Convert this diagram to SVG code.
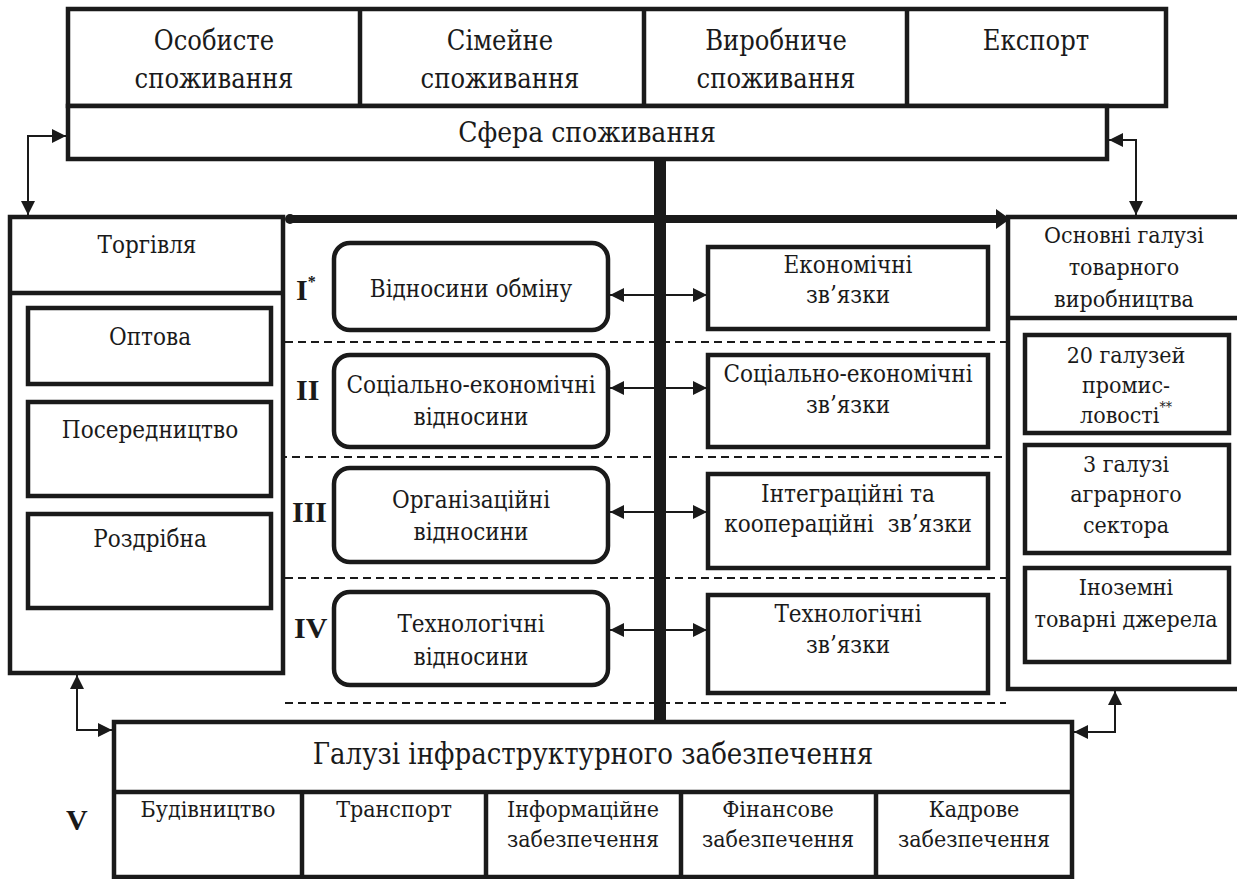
<svg xmlns="http://www.w3.org/2000/svg" width="1237" height="879" viewBox="0 0 1237 879">
<defs>
<style>
.box{fill:#fff;stroke:#1a1a1a;stroke-width:4.5}
.ln{fill:none;stroke:#1a1a1a;stroke-width:4.5}
.t{font-family:"DejaVu Serif Condensed","Liberation Serif","DejaVu Serif",serif;font-size:24px;fill:#1a1a1a;text-anchor:middle}
.big{font-size:27px}
.sf{font-size:28px}
.ttl{font-size:29px}
.sm{font-size:23px}
.num{font-family:"Liberation Serif","Times New Roman",serif;font-size:30px;font-weight:bold;fill:#1a1a1a}
.thin{fill:none;stroke:#1a1a1a;stroke-width:2}
.dash{fill:none;stroke:#1a1a1a;stroke-width:2;stroke-dasharray:8 5}
</style>
<marker id="ah" viewBox="0 0 10 10" refX="10" refY="5" markerWidth="15" markerHeight="14" markerUnits="userSpaceOnUse" orient="auto-start-reverse">
<path d="M0,0 L10,5 L0,10 z" fill="#1a1a1a"/>
</marker>
</defs>
<rect width="1237" height="879" fill="#fff"/>

<g id="dashes">
<line class="dash" x1="285" y1="342" x2="1007" y2="342"/>
<line class="dash" x1="279" y1="457" x2="1002" y2="457"/>
<line class="dash" x1="285" y1="578" x2="1006" y2="578"/>
<line class="dash" x1="285" y1="703" x2="1006" y2="703"/>
</g>

<g id="top-row">
<rect class="box" x="68" y="9" width="1098" height="97"/>
<line class="ln" x1="360" y1="9" x2="360" y2="106"/>
<line class="ln" x1="644" y1="9" x2="644" y2="106"/>
<line class="ln" x1="907" y1="9" x2="907" y2="106"/>
<text class="t big" x="214" y="50">Особисте</text>
<text class="t big" x="214" y="88">споживання</text>
<text class="t big" x="500" y="50">Сімейне</text>
<text class="t big" x="500" y="88">споживання</text>
<text class="t big" x="776" y="50">Виробниче</text>
<text class="t big" x="776" y="88">споживання</text>
<text class="t big" x="1036" y="50">Експорт</text>
</g>

<g id="sfera">
<rect class="box" x="68" y="106" width="1039" height="53"/>
<text class="t sf" x="587" y="142">Сфера споживання</text>
</g>

<g id="torgivlya">
<rect class="box" x="10" y="217" width="273" height="456"/>
<line class="ln" x1="10" y1="293" x2="283" y2="293"/>
<text class="t" x="147" y="253">Торгівля</text>
</g>
<g id="optova">
<rect class="box" x="28" y="308" width="243" height="76"/>
<text class="t" x="150" y="345">Оптова</text>
</g>
<g id="poserednytstvo">
<rect class="box" x="28" y="402" width="243" height="94"/>
<text class="t" x="150" y="438">Посередництво</text>
</g>
<g id="rozdribna">
<rect class="box" x="28" y="514" width="243" height="94"/>
<text class="t" x="150" y="547">Роздрібна</text>
</g>

<g id="osnovni">
<rect class="box" x="1008" y="217" width="240" height="472"/>
<line class="ln" x1="1008" y1="318" x2="1240" y2="318"/>
<text class="t sm" x="1124" y="243">Основні галузі</text>
<text class="t sm" x="1124" y="275">товарного</text>
<text class="t sm" x="1124" y="307">виробництва</text>
</g>
<g id="promyslovist">
<rect class="box" x="1025" y="335" width="204" height="98"/>
<text class="t sm" x="1126" y="363">20 галузей</text>
<text class="t sm" x="1126" y="393">промис-</text>
<text class="t sm" x="1126" y="423">ловості<tspan font-size="14" dy="-11">**</tspan></text>
</g>
<g id="agrarnyi">
<rect class="box" x="1025" y="445" width="204" height="108"/>
<text class="t sm" x="1126" y="472">3 галузі</text>
<text class="t sm" x="1126" y="502">аграрного</text>
<text class="t sm" x="1126" y="533">сектора</text>
</g>
<g id="inozemni">
<rect class="box" x="1025" y="568" width="204" height="94"/>
<text class="t sm" x="1126" y="595">Іноземні</text>
<text class="t sm" x="1126" y="627">товарні джерела</text>
</g>

<g id="levels">
<text class="num" x="296" y="300">I<tspan font-size="16" dy="-13">*</tspan></text>
<text class="num" x="296" y="400">II</text>
<text class="num" x="292" y="522">III</text>
<text class="num" x="294" y="638">IV</text>
<text class="num" x="66" y="830">V</text>
</g>

<g id="vidnosyny-obminu">
<rect class="box" x="334" y="243" width="274" height="87" rx="16"/>
<text class="t" x="471" y="297">Відносини обміну</text>
</g>
<g id="sots-ek-vidnosyny">
<rect class="box" x="334" y="355" width="274" height="92" rx="16"/>
<text class="t" x="471" y="393">Соціально-економічні</text>
<text class="t" x="471" y="425">відносини</text>
</g>
<g id="org-vidnosyny">
<rect class="box" x="334" y="468" width="274" height="94" rx="16"/>
<text class="t" x="471" y="508">Організаційні</text>
<text class="t" x="471" y="540">відносини</text>
</g>
<g id="tekh-vidnosyny">
<rect class="box" x="334" y="592" width="274" height="93" rx="16"/>
<text class="t" x="471" y="632">Технологічні</text>
<text class="t" x="471" y="665">відносини</text>
</g>

<g id="ek-zviazky">
<rect class="box" x="708" y="247" width="280" height="82"/>
<text class="t" x="848" y="273">Економічні</text>
<text class="t" x="848" y="303">зв’язки</text>
</g>
<g id="sots-ek-zviazky">
<rect class="box" x="708" y="355" width="280" height="92"/>
<text class="t" x="848" y="382">Соціально-економічні</text>
<text class="t" x="848" y="413">зв’язки</text>
</g>
<g id="intehr-zviazky">
<rect class="box" x="708" y="474" width="280" height="94"/>
<text class="t" x="848" y="502">Інтеграційні та</text>
<text class="t" x="848" y="532" style="white-space:pre">кооперацiйні  зв’язки</text>
</g>
<g id="tekh-zviazky">
<rect class="box" x="708" y="595" width="280" height="98"/>
<text class="t" x="848" y="622">Технологічні</text>
<text class="t" x="848" y="653">зв’язки</text>
</g>

<g id="infrastruktura">
<rect class="box" x="114" y="722" width="958" height="155"/>
<line class="ln" x1="114" y1="792" x2="1072" y2="792"/>
<line class="ln" x1="302" y1="792" x2="302" y2="877"/>
<line class="ln" x1="486" y1="792" x2="486" y2="877"/>
<line class="ln" x1="681" y1="792" x2="681" y2="877"/>
<line class="ln" x1="876" y1="792" x2="876" y2="877"/>
<text class="t ttl" x="593" y="764">Галузі інфраструктурного забезпечення</text>
<text class="t sm" x="208" y="817">Будівництво</text>
<text class="t sm" x="394" y="817">Транспорт</text>
<text class="t sm" x="583" y="817">Інформаційне</text>
<text class="t sm" x="583" y="847">забезпечення</text>
<text class="t sm" x="778" y="817">Фінансове</text>
<text class="t sm" x="778" y="847">забезпечення</text>
<text class="t sm" x="974" y="817">Кадрове</text>
<text class="t sm" x="974" y="847">забезпечення</text>
</g>

<g id="connectors">
<line x1="660" y1="159" x2="660" y2="722" stroke="#1a1a1a" stroke-width="12"/>
<line x1="290" y1="219" x2="1000" y2="219" stroke="#1a1a1a" stroke-width="8"/>
<circle cx="290" cy="219" r="5" fill="#1a1a1a"/>
<polygon points="996,209 1010,219 996,229" fill="#1a1a1a"/>
<path class="thin" d="M610,295 H707" marker-start="url(#ah)" marker-end="url(#ah)"/>
<path class="thin" d="M610,388 H707" marker-start="url(#ah)" marker-end="url(#ah)"/>
<path class="thin" d="M610,512 H707" marker-start="url(#ah)" marker-end="url(#ah)"/>
<path class="thin" d="M610,630 H707" marker-start="url(#ah)" marker-end="url(#ah)"/>
<path class="thin" d="M28,215 V136 H66" marker-start="url(#ah)" marker-end="url(#ah)"/>
<path class="thin" d="M1136,215 V140 H1109" marker-start="url(#ah)" marker-end="url(#ah)"/>
<path class="thin" d="M77,675 V730 H112" marker-start="url(#ah)" marker-end="url(#ah)"/>
<path class="thin" d="M1115,691 V732 H1074" marker-start="url(#ah)" marker-end="url(#ah)"/>
</g>
</svg>
